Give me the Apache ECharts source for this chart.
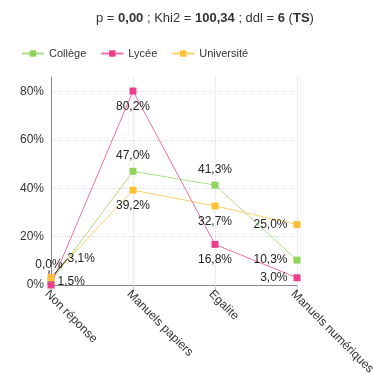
<!DOCTYPE html>
<html>
<head>
<meta charset="utf-8">
<script src="https://cdn.jsdelivr.net/npm/echarts@6/dist/echarts.min.js"></script>
<style>
html,body{margin:0;padding:0;background:#fff;}
#chart{width:374px;height:374px;}
</style>
</head>
<body>
<div id="chart"></div>
<script>
// Categories and shares (%) per school level
var categories = ['Non réponse', 'Manuels papiers', 'Egalite', 'Manuels numériques'];
var college = [1.5, 47.0, 41.3, 10.3];
var lycee = [0.0, 80.2, 16.8, 3.0];
var universite = [3.1, 39.2, 32.7, 25.0];
var yTicks = [0, 20, 40, 60, 80];

var FONT = 'Liberation Sans, Arial, sans-serif';

function fmt(v) {
  return v.toFixed(1).replace('.', ',') + '%';
}

// label placement for each point of a series
function makeData(values, positions, firstLabel) {
  return values.map(function (v, i) {
    var item = { value: v, label: { position: positions[i] } };
    if (i === 0 && firstLabel) {
      item.label = firstLabel.label;
      item.labelLine = firstLabel.labelLine;
    }
    return item;
  });
}

function series(name, color, values, positions, firstLabel, layout) {
  return {
    name: name,
    type: 'line',
    data: makeData(values, positions, firstLabel),
    symbol: 'rect',
    symbolSize: 7,
    itemStyle: { color: color },
    lineStyle: { color: color, width: 1, opacity: 0.75 },
    label: {
      show: true,
      formatter: function (p) { return fmt(p.value); },
      color: '#222',
      fontFamily: FONT,
      fontSize: 12,
      distance: 6
    },
    labelLayout: layout,
    animation: false
  };
}

var chart = echarts.init(document.getElementById('chart'), null, { renderer: 'canvas' });

chart.setOption({
  backgroundColor: '#fff',
  title: {
    text: '{n|p = }{b|0,00}{n| ; Khi2 = }{b|100,34}{n| ; ddl = }{b|6}{n| (}{b|TS}{n|)}',
    left: 91,
    top: 7,
    textStyle: {
      fontWeight: 'normal',
      rich: {
        n: { fontFamily: FONT, fontSize: 13, color: '#333', fontWeight: 'normal' },
        b: { fontFamily: FONT, fontSize: 13, color: '#333', fontWeight: 'bold' }
      }
    }
  },
  legend: {
    left: 16,
    top: 43,
    itemWidth: 22,
    itemHeight: 8,
    itemGap: 14,
    textStyle: { fontFamily: FONT, fontSize: 11, color: '#333' },
    data: ['Collège', 'Lycée', 'Université']
  },
  grid: { left: 51, right: 77, top: 77, bottom: 89, containLabel: false, outerBoundsMode: 'none' },
  xAxis: {
    type: 'category',
    data: categories,
    boundaryGap: false,
    axisLine: { lineStyle: { color: '#888' } },
    axisTick: { show: true, length: 4, lineStyle: { color: '#ccc' } },
    axisLabel: {
      rotate: -45,
      interval: 0,
      fontFamily: FONT,
      fontSize: 12,
      color: '#333',
      margin: 3,
      verticalAlign: 'top'
    },
    splitLine: { show: true, lineStyle: { color: '#ddd', type: 'dotted' } }
  },
  yAxis: {
    type: 'value',
    min: 0,
    max: 86,
    interval: 20,
    axisLine: { show: true, lineStyle: { color: '#888' } },
    axisTick: { show: false },
    axisLabel: {
      fontFamily: FONT,
      fontSize: 12,
      color: '#333',
      margin: 7,
      showMaxLabel: false,
      formatter: function (v) { return yTicks.indexOf(v) >= 0 ? v + '%' : ''; }
    },
    splitLine: { show: true, showMinLine: false, showMaxLine: false, lineStyle: { color: '#ddd', type: 'dotted' } }
  },
  series: [
    series('Collège', '#8fd45a', college, ['right', 'top', 'top', 'left'], {
      label: { position: 'right', distance: 3 }
    }, null),
    series('Lycée', '#ec3f8c', lycee, ['left', 'bottom', 'bottom', 'left'], {
      label: { position: 'top' },
      labelLine: { show: true, lineStyle: { color: '#222', width: 1 } }
    }, function (p) {
      if (p.dataIndex === 0) return { dx: -2, dy: -5 };
    }),
    series('Université', '#ffc037', universite, ['right', 'bottom', 'bottom', 'left'], {
      label: { position: 'right' },
      labelLine: { show: true, lineStyle: { color: '#222', width: 1 } }
    }, function (p) {
      if (p.dataIndex === 0) return { dx: 7, dy: -19 };
    })
  ]
});
</script>
</body>
</html>
